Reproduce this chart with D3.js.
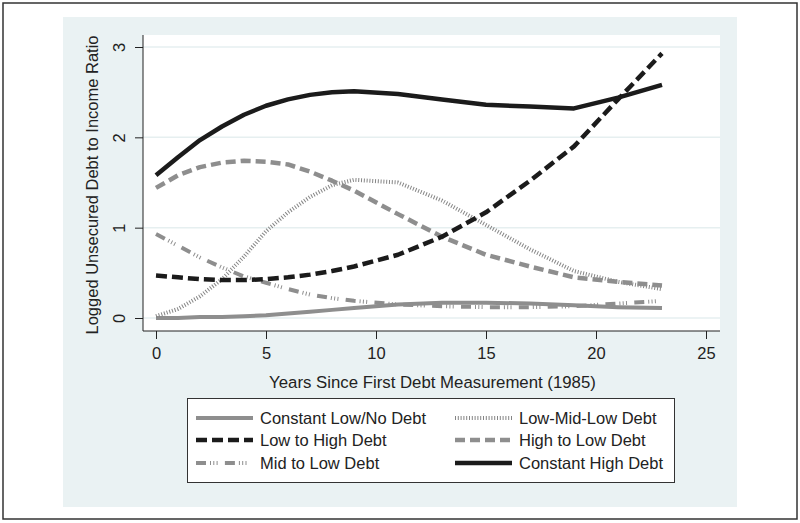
<!DOCTYPE html>
<html><head><meta charset="utf-8">
<script src="https://cdn.jsdelivr.net/npm/d3@7/dist/d3.min.js"></script>
<style>
html,body{margin:0;padding:0;background:#fff;}
svg{display:block;font-family:"Liberation Sans",Arial,Helvetica,sans-serif;}
</style></head>
<body>
<svg id="chart" width="800" height="523"></svg>
<script>
const years = [0,1,2,3,4,5,6,7,8,9,11,13,15,17,19,21,23];
const constantLow  = [0.00,0.00,0.01,0.01,0.02,0.03,0.05,0.07,0.09,0.11,0.15,0.17,0.17,0.16,0.14,0.12,0.11];
const lowToHigh    = [0.47,0.45,0.43,0.42,0.42,0.43,0.45,0.48,0.52,0.57,0.70,0.90,1.17,1.52,1.90,2.42,2.93];
const midToLow     = [0.93,0.80,0.67,0.56,0.46,0.39,0.32,0.26,0.22,0.19,0.15,0.13,0.12,0.12,0.13,0.16,0.19];
const lowMidLow    = [0.02,0.10,0.24,0.43,0.68,0.96,1.17,1.34,1.47,1.53,1.50,1.30,1.03,0.76,0.52,0.40,0.32];
const highToLow    = [1.44,1.58,1.67,1.72,1.74,1.73,1.70,1.62,1.52,1.41,1.15,0.90,0.70,0.57,0.45,0.40,0.36];
const constantHigh = [1.58,1.78,1.97,2.12,2.25,2.35,2.42,2.47,2.50,2.51,2.48,2.42,2.36,2.34,2.32,2.44,2.58];
const seriesNames = ["Constant Low/No Debt","Low-Mid-Low Debt","Low to High Debt","High to Low Debt","Mid to Low Debt","Constant High Debt"];
const xTicks = [0,5,10,15,20,25];
const yTicks = [0,1,2,3];

const GRAY = "#8e8e8e", BLACK = "#1b1b1b";
const FS = 16.5;
const styles = {
  "Constant Low/No Debt": {color:GRAY, w:4, dash:null, data:constantLow},
  "Low to High Debt":     {color:BLACK, w:4.5, dash:"11,5", data:lowToHigh},
  "Mid to Low Debt":      {color:GRAY, w:4, dash:"10,4,1,2.3,1,2.3,1,7.3", data:midToLow},
  "Low-Mid-Low Debt":     {color:"#858585", w:4, dash:"1,1.8", data:lowMidLow},
  "High to Low Debt":     {color:GRAY, w:4.5, dash:"10,5", data:highToLow},
  "Constant High Debt":   {color:BLACK, w:4.5, dash:null, data:constantHigh}
};

const svg = d3.select("#chart");
svg.append("rect").attr("x",3).attr("y",3).attr("width",794).attr("height",516)
  .attr("fill","#fff").attr("stroke","#333").attr("stroke-width",1.5);
svg.append("rect").attr("x",63).attr("y",17).attr("width",674).attr("height",490).attr("fill","#eaf2f3");
const P = {l:143, r:720, t:35, b:331};
svg.append("rect").attr("x",P.l).attr("y",P.t).attr("width",P.r-P.l).attr("height",P.b-P.t).attr("fill","#fff");

const x = d3.scaleLinear().domain([0,25]).range([156,706]);
const y = d3.scaleLinear().domain([0,3]).range([318,47]);

svg.append("g").selectAll("line").data(yTicks).join("line")
  .attr("x1",P.l).attr("x2",P.r).attr("y1",d=>y(d)).attr("y2",d=>y(d))
  .attr("stroke","#e6eff0").attr("stroke-width",1.5);

const xAxis = svg.append("g").attr("transform",`translate(0,${P.b})`)
  .call(d3.axisBottom(x).tickValues(xTicks).tickFormat(d3.format("d")).tickSize(8).tickSizeOuter(0));
xAxis.select(".domain").attr("d",`M${P.l},0H${P.r}`).attr("stroke","#222");
xAxis.selectAll(".tick line").attr("stroke","#222");
xAxis.selectAll("text").attr("font-size",FS).attr("fill","#222").attr("dy","1.05em")
  .style("font-family","'Liberation Sans',Arial,sans-serif");

const yAxis = svg.append("g").attr("transform",`translate(${P.l},0)`)
  .call(d3.axisLeft(y).tickValues(yTicks).tickFormat(d3.format("d")).tickSize(8).tickSizeOuter(0));
yAxis.select(".domain").attr("d",`M0,${P.t}V${P.b}`).attr("stroke","#222");
yAxis.selectAll(".tick line").attr("stroke","#222");
yAxis.selectAll("text").attr("font-size",FS).attr("fill","#222")
  .attr("x",0).attr("dy",0).attr("text-anchor","middle")
  .attr("transform","translate(-24,0) rotate(-90)").attr("dominant-baseline","central")
  .style("font-family","'Liberation Sans',Arial,sans-serif");

svg.append("text").attr("x",(P.l+P.r)/2 + 1).attr("y",388).attr("text-anchor","middle")
  .attr("font-size",FS+0.3).attr("fill","#222").text("Years Since First Debt Measurement (1985)");
svg.append("text").attr("transform",`translate(98,${(P.t+P.b)/2 + 2}) rotate(-90)`).attr("text-anchor","middle")
  .attr("font-size",FS).attr("fill","#222").text("Logged Unsecured Debt to Income Ratio");

const line = d3.line().x((d,i)=>x(years[i])).y(d=>y(d));
const drawOrder = ["Constant Low/No Debt","Mid to Low Debt","Low-Mid-Low Debt","High to Low Debt","Low to High Debt","Constant High Debt"];
svg.append("g").selectAll("path").data(drawOrder).join("path")
  .attr("d",n=>line(styles[n].data)).attr("fill","none")
  .attr("stroke",n=>styles[n].color).attr("stroke-width",n=>styles[n].w)
  .attr("stroke-dasharray",n=>styles[n].dash).attr("stroke-linejoin","round");

svg.append("rect").attr("x",187.5).attr("y",398.5).attr("width",487).attr("height",84)
  .attr("fill","#fff").attr("stroke","#333").attr("stroke-width",1);
const legX = [196, 455], legY = [418, 440, 463];
const lg = svg.append("g").selectAll("g").data(seriesNames).join("g")
  .attr("transform",(d,i)=>`translate(${legX[i%2]},${legY[Math.floor(i/2)]})`);
lg.append("line").attr("x1",0).attr("x2",57).attr("y1",0).attr("y2",0)
  .attr("stroke",n=>styles[n].color).attr("stroke-width",n=>styles[n].w)
  .attr("stroke-dasharray",n=>styles[n].dash);
lg.append("text").attr("x",64).attr("y",0).attr("dy","0.36em").attr("font-size",FS).attr("fill","#222").text(n=>n);
</script>
</body></html>
